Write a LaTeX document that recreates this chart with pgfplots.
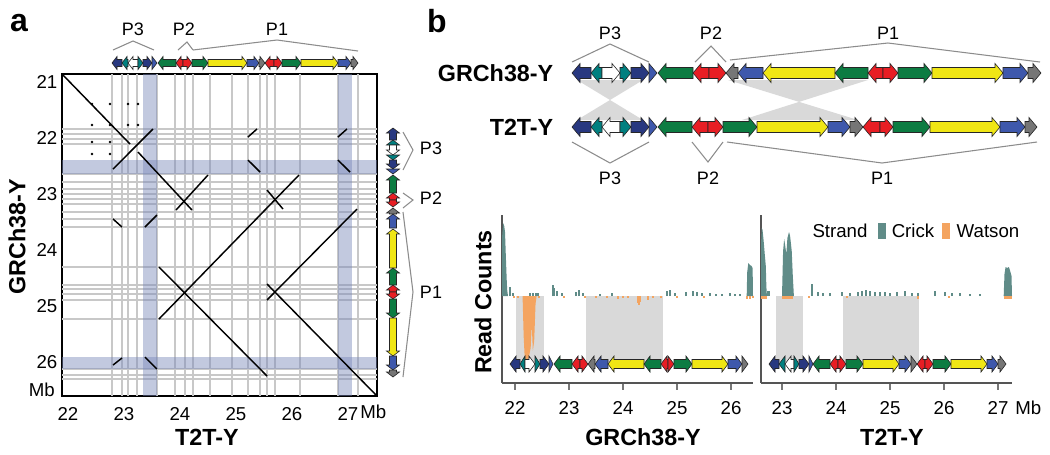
\documentclass[border=0pt]{standalone}
\usepackage{fontspec}
\setmainfont{Liberation Sans}
\usepackage{pgfplots}
\pgfplotsset{compat=1.18}

\definecolor{cnavy}{RGB}{40,56,128}
\definecolor{cblue}{RGB}{62,88,172}
\definecolor{cteal}{RGB}{0,128,128}
\definecolor{cgreen}{RGB}{12,124,66}
\definecolor{cred}{RGB}{232,30,36}
\definecolor{cyellow}{RGB}{240,230,20}
\definecolor{cgrey}{RGB}{118,118,118}
\definecolor{crick}{RGB}{96,140,136}
\definecolor{watson}{RGB}{244,164,96}
\definecolor{cshade}{RGB}{217,217,217}
\definecolor{gridc}{RGB}{200,200,200}
\definecolor{band}{RGB}{120,135,185}
\definecolor{brk}{RGB}{140,140,140}
\definecolor{axgray}{RGB}{85,85,85}

\newcommand{\tkl}{\fontsize{14}{14}\selectfont}
\newcommand{\lbl}{\fontsize{17.5}{18}\selectfont\bfseries}
\newcommand{\pl}{\fontsize{13.5}{14}\selectfont}

\tikzset{ol/.style={draw=black!85, line width=0.45pt, line join=miter}}

% gene arrows, pixel units of the overlay axis: x1 x2 centre body-half head-half head-length colour
\newcommand{\rarr}[7]{\draw[ol, fill=#7] (axis cs:#1,{#3-#4}) -- (axis cs:{#2-min(#6,#2-#1)},{#3-#4}) -- (axis cs:{#2-min(#6,#2-#1)},{#3-#5}) -- (axis cs:#2,#3) -- (axis cs:{#2-min(#6,#2-#1)},{#3+#5}) -- (axis cs:{#2-min(#6,#2-#1)},{#3+#4}) -- (axis cs:#1,{#3+#4}) -- cycle;}
\newcommand{\larr}[7]{\draw[ol, fill=#7] (axis cs:#2,{#3-#4}) -- (axis cs:{#1+min(#6,#2-#1)},{#3-#4}) -- (axis cs:{#1+min(#6,#2-#1)},{#3-#5}) -- (axis cs:#1,#3) -- (axis cs:{#1+min(#6,#2-#1)},{#3+#5}) -- (axis cs:{#1+min(#6,#2-#1)},{#3+#4}) -- (axis cs:#2,{#3+#4}) -- cycle;}
\newcommand{\darr}[7]{\draw[ol, fill=#7] (axis cs:{#3-#4},#1) -- (axis cs:{#3-#4},{#2-min(#6,#2-#1)}) -- (axis cs:{#3-#5},{#2-min(#6,#2-#1)}) -- (axis cs:#3,#2) -- (axis cs:{#3+#5},{#2-min(#6,#2-#1)}) -- (axis cs:{#3+#4},{#2-min(#6,#2-#1)}) -- (axis cs:{#3+#4},#1) -- cycle;}
\newcommand{\uarr}[7]{\draw[ol, fill=#7] (axis cs:{#3-#4},#2) -- (axis cs:{#3-#4},{#1+min(#6,#2-#1)}) -- (axis cs:{#3-#5},{#1+min(#6,#2-#1)}) -- (axis cs:#3,#1) -- (axis cs:{#3+#5},{#1+min(#6,#2-#1)}) -- (axis cs:{#3+#4},{#1+min(#6,#2-#1)}) -- (axis cs:{#3+#4},#2) -- cycle;}

\newcommand{\pAL}[3]{\larr{#1}{#2}{63}{3.5}{6.5}{5}{#3}}
\newcommand{\pAR}[3]{\rarr{#1}{#2}{63}{3.5}{6.5}{5}{#3}}
\newcommand{\pAU}[3]{\uarr{#1}{#2}{393}{3.5}{6.5}{5}{#3}}
\newcommand{\pAD}[3]{\darr{#1}{#2}{393}{3.5}{6.5}{5}{#3}}
\newcommand{\pGL}[3]{\larr{#1}{#2}{73}{5.5}{9.5}{8}{#3}}
\newcommand{\pGR}[3]{\rarr{#1}{#2}{73}{5.5}{9.5}{8}{#3}}
\newcommand{\pTL}[3]{\larr{#1}{#2}{127}{5.5}{9.5}{8}{#3}}
\newcommand{\pTR}[3]{\rarr{#1}{#2}{127}{5.5}{9.5}{8}{#3}}
\newcommand{\pDL}[3]{\larr{#1}{#2}{364}{4.5}{8}{6}{#3}}
\newcommand{\pDR}[3]{\rarr{#1}{#2}{364}{4.5}{8}{6}{#3}}

\pgfplotsset{
  dseg/.style={draw=black, line width=1.1pt, mark=none},
  readaxis/.style={
    anchor=south west, width=188.25pt, height=126pt, scale only axis,
    ymin=-87, ymax=81,
    axis x line=bottom, axis y line=left,
    axis line style={-, draw=axgray, line width=1pt},
    every outer x axis line/.append style={-},
    every outer y axis line/.append style={-},
    ytick=\empty, tick align=outside, major tick length=5pt,
    tick style={draw=axgray!80, line width=1pt},
    xticklabel style={font=\tkl, yshift=-5pt},
    /pgf/number format/assume math mode=true,
    clip=false,
  },
}

\begin{document}
\begin{tikzpicture}
\path[use as bounding box] (0,0) rectangle (787.5pt,-340.5pt);

% ---------------- panel a: dot plot ----------------
\begin{axis}[
  at={(46.5pt,-297pt)}, anchor=south west,
  width=236.25pt, height=241.5pt, scale only axis,
  xmin=21.893, xmax=27.518, ymin=20.857, ymax=26.607, y dir=reverse,
  xtick={22,...,27}, ytick={21,...,26},
  major tick length=0pt,
  tick label style={font=\tkl},
  xticklabel style={yshift=-5pt},
  /pgf/number format/assume math mode=true,
  axis line style={line width=1pt},
  extra x ticks={22.786,22.964,23.071,23.232,23.589,23.911,24.089,24.232,24.536,24.929,25.214,25.429,25.554,25.696,26.143,26.821,27.179},
  extra x tick labels={},
  extra y ticks={21.839,21.929,22.018,22.107,22.643,22.786,22.911,23.0,23.089,23.179,23.321,23.446,23.589,24.304,24.625,24.696,24.786,24.893,25.232,26.125,26.232,26.304},
  extra y tick labels={},
  extra tick style={grid=major, major grid style={draw=gridc, line width=1pt}, major tick length=0pt},
]
\addplot[fill=band, fill opacity=0.45, draw=none] coordinates {(23.339,20.857)(23.589,20.857)(23.589,26.607)(23.339,26.607)} -- cycle;
\addplot[fill=band, fill opacity=0.45, draw=none] coordinates {(26.821,20.857)(27.071,20.857)(27.071,26.607)(26.821,26.607)} -- cycle;
\addplot[fill=band, fill opacity=0.45, draw=none] coordinates {(21.893,22.393)(27.518,22.393)(27.518,22.643)(21.893,22.643)} -- cycle;
\addplot[fill=band, fill opacity=0.45, draw=none] coordinates {(21.893,25.911)(27.518,25.911)(27.518,26.125)(21.893,26.125)} -- cycle;

\addplot[dseg] coordinates {(21.893,20.857)(23.107,22.107)};
\addplot[dseg] coordinates {(23.25,22.25)(24.214,23.286)};
\addplot[dseg] coordinates {(22.804,22.554)(23.518,21.839)};
\addplot[dseg] coordinates {(23.929,23.286)(24.5,22.661)};
\addplot[dseg] coordinates {(25.214,21.982)(25.375,21.839)};
\addplot[dseg] coordinates {(25.214,22.393)(25.429,22.607)};
\addplot[dseg] coordinates {(26.821,21.982)(26.982,21.839)};
\addplot[dseg] coordinates {(26.821,22.393)(27.036,22.607)};
\addplot[dseg] coordinates {(25.554,22.929)(25.839,23.268)};
\addplot[dseg] coordinates {(23.625,25.232)(26.125,22.661)};
\addplot[dseg] coordinates {(25.554,24.893)(27.161,23.268)};
\addplot[dseg] coordinates {(23.625,24.304)(25.554,26.25)};
\addplot[dseg] coordinates {(25.554,24.607)(27.518,26.607)};
\addplot[dseg] coordinates {(22.804,23.446)(22.964,23.589)};
\addplot[dseg] coordinates {(23.375,23.589)(23.589,23.375)};
\addplot[dseg] coordinates {(23.375,25.911)(23.589,26.125)};
\addplot[dseg] coordinates {(22.804,26.054)(22.964,25.929)};
\addplot[only marks, mark=*, mark size=0.7pt, black] coordinates {
  (22.429,21.393)(22.75,21.393)(23.071,21.393)(23.25,21.393)
  (22.429,21.768)(22.75,21.768)(23.071,21.768)(23.25,21.768)
  (22.429,22.071)(22.75,22.071)(22.429,22.286)(22.75,22.286)};
\end{axis}

% ---------------- panel b: read counts, GRCh38-Y ----------------
\begin{axis}[readaxis, at={(376.5pt,-287.25pt)}, xmin=21.759, xmax=26.407, xtick={22,...,26}]
\addplot[fill=cshade, draw=none] coordinates {(22.019,0)(22.537,0)(22.537,-66)(22.019,-66)} -- cycle;
\addplot[fill=cshade, draw=none] coordinates {(23.315,0)(24.741,0)(24.741,-66)(23.315,-66)} -- cycle;
\addplot[fill=crick, draw=none] coordinates {(21.759,0)(21.762,60)(21.78,73)(21.80,70)(21.815,64)(21.83,40)(21.845,18)(21.855,6)(21.87,0)} -- cycle;
\addplot[fill=crick, draw=none] coordinates {(26.29,0)(26.30,24)(26.32,33)(26.35,31)(26.38,30)(26.40,28)(26.407,0)} -- cycle;
\addplot[ycomb, draw=crick, line width=1.5pt, mark=none] coordinates {
  (21.905,9)(21.915,8)(21.96,3)(22.28,3)(22.33,3)(22.38,3)(22.43,3)(22.704,11)(22.72,8)(22.778,5)
  (22.87,3)(23.13,4)(23.185,6)(23.259,3)(23.574,2)(23.796,3)(24.815,5)(24.87,6)(24.963,3)(25.167,4)
  (25.296,5)(25.37,4)(25.463,3)(25.611,3)(25.722,2)(25.833,2)(25.981,3)(26.074,2)(26.167,2)};
\addplot[fill=watson, draw=none] coordinates {(22.14,0)(22.16,-40)(22.18,-62)(22.20,-67)(22.23,-66)(22.26,-60)(22.29,-52)(22.31,-28)(22.33,-55)(22.355,-45)(22.38,-8)(22.40,0)} -- cycle;
\addplot[ycomb, draw=watson, line width=1.5pt, mark=none] coordinates {
  (21.98,-2)(22.05,-2)(22.45,-2)(22.9,-2)(23.3,-2)(23.5,-2)(23.7,-2)(23.9,-3)(24.0,-2)(24.1,-2)
  (24.278,-7)(24.30,-9)(24.315,-6)(24.46,-4)(24.55,-2)(24.7,-2)(25.0,-2)(25.5,-2)(26.3,-3)(26.36,-3)(26.40,-2)};
\end{axis}

% ---------------- panel b: read counts, T2T-Y ----------------
\begin{axis}[readaxis, at={(570.75pt,-287.25pt)}, xmin=22.611, xmax=27.259, xtick={23,...,27}]
\addplot[fill=cshade, draw=none] coordinates {(22.889,0)(23.389,0)(23.389,-66)(22.889,-66)} -- cycle;
\addplot[fill=cshade, draw=none] coordinates {(24.130,0)(25.537,0)(25.537,-66)(24.130,-66)} -- cycle;
\addplot[fill=crick, draw=none] coordinates {(22.611,0)(22.614,55)(22.625,68)(22.64,66)(22.66,55)(22.68,42)(22.70,30)(22.71,10)(22.72,0)} -- cycle;
\addplot[fill=crick, draw=none] coordinates {(23.00,0)(23.02,45)(23.04,57)(23.06,50)(23.08,42)(23.10,58)(23.13,64)(23.15,60)(23.18,45)(23.20,20)(23.22,0)} -- cycle;
\addplot[fill=crick, draw=none] coordinates {(27.105,0)(27.12,22)(27.14,29)(27.17,28)(27.20,29)(27.22,26)(27.25,20)(27.259,0)} -- cycle;
\addplot[ycomb, draw=crick, line width=1.5pt, mark=none] coordinates {
  (22.745,5)(22.76,5)(23.556,12)(23.667,4)(23.76,3)(23.89,3)(24.11,4)(24.26,3)(24.41,4)(24.48,5)
  (24.56,6)(24.63,5)(24.72,4)(24.81,4)(24.91,4)(25.0,3)(25.13,4)(25.28,5)(25.41,3)(25.52,3)
  (25.83,5)(26.02,4)(26.15,3)(26.30,3)(26.48,2)(26.67,2)};
\addplot[fill=watson, draw=none] coordinates {(22.611,0)(22.611,-3)(22.72,-3)(22.72,0)} -- cycle;
\addplot[fill=watson, draw=none] coordinates {(23.0,0)(23.0,-3)(23.2,-3)(23.2,0)} -- cycle;
\addplot[fill=watson, draw=none] coordinates {(27.11,0)(27.11,-3)(27.259,-3)(27.259,0)} -- cycle;
\addplot[ycomb, draw=watson, line width=1.5pt, mark=none] coordinates {(23.5,-2)(24.2,-2)(25.52,-3)(26.1,-2)};
\end{axis}

% ---------------- overlay in pixel units: genes, brackets, text ----------------
\begin{axis}[
  at={(0pt,0pt)}, anchor=north west,
  width=787.5pt, height=340.5pt, scale only axis, hide axis,
  xmin=0, xmax=1050, ymin=0, ymax=454, y dir=reverse, clip=false,
]
% shaded inversions between the two assemblies
\fill[cshade] (axis cs:577,80) -- (axis cs:643,80) -- (axis cs:577,120) -- (axis cs:643,120) -- cycle;
\fill[cshade] (axis cs:728,80) -- (axis cs:868,80) -- (axis cs:742,120) -- (axis cs:858,120) -- cycle;

% panel a top strip (T2T-Y)
\pAL{112}{122}{cnavy}\pAL{122}{128}{cteal}\pAL{128}{138}{white}\pAR{138}{143}{cteal}
\pAR{143}{152}{cnavy}\pAR{152}{157}{cblue}\pAL{158}{176}{cgreen}\pAL{176}{183}{cred}
\pAR{183}{192}{cred}\pAR{192}{208}{cgreen}\pAR{208}{247}{cyellow}\pAR{247}{259}{cblue}
\pAR{259}{265}{cgrey}\pAL{265}{274}{cred}\pAR{274}{282}{cred}\pAR{282}{301}{cgreen}
\pAR{301}{338}{cyellow}\pAR{338}{351}{cblue}\pAR{351}{358}{cgrey}
% panel a right strip (GRCh38-Y)
\pAU{128}{140}{cnavy}\pAU{140}{145}{cteal}\pAD{145}{155}{white}\pAD{155}{160}{cteal}
\pAD{160}{169}{cnavy}\pAD{169}{174}{cblue}\pAU{175}{193}{cgreen}\pAU{193}{200}{cred}
\pAD{200}{207}{cred}\pAU{208}{214}{cgrey}\pAU{214}{228}{cblue}\pAU{229}{268}{cyellow}
\pAU{268}{285}{cgreen}\pAU{285}{292}{cred}\pAD{292}{299}{cred}\pAD{299}{318}{cgreen}
\pAD{318}{356}{cyellow}\pAD{356}{370}{cblue}\pAD{370}{377}{cgrey}
% panel b, GRCh38-Y row
\pGL{572}{591}{cnavy}\pGL{591}{602}{cteal}\pGR{602}{620}{white}\pGR{620}{631}{cteal}
\pGR{631}{649}{cnavy}\pGR{649}{657}{cblue}\pGL{658}{693}{cgreen}\pGL{693}{709}{cred}
\pGR{709}{726}{cred}\pGL{726}{738}{cgrey}\pGL{738}{763}{cblue}\pGL{763}{835}{cyellow}
\pGL{835}{868}{cgreen}\pGL{868}{883}{cred}\pGR{883}{898}{cred}\pGR{898}{932}{cgreen}
\pGR{932}{1003}{cyellow}\pGR{1003}{1028}{cblue}\pGR{1028}{1041}{cgrey}
% panel b, T2T-Y row
\pTL{572}{591}{cnavy}\pTL{591}{602}{cteal}\pTL{602}{620}{white}\pTR{620}{631}{cteal}
\pTR{631}{649}{cnavy}\pTR{649}{657}{cblue}\pTL{658}{692}{cgreen}\pTL{692}{708}{cred}
\pTR{708}{723}{cred}\pTR{723}{757}{cgreen}\pTR{757}{828}{cyellow}\pTR{828}{850}{cblue}
\pTR{850}{863}{cgrey}\pTL{863}{880}{cred}\pTR{880}{893}{cred}\pTR{893}{930}{cgreen}
\pTR{930}{1000}{cyellow}\pTR{1000}{1025}{cblue}\pTR{1025}{1037}{cgrey}
% read count panels, gene tracks
\pDL{510}{520}{cnavy}\pDL{520}{525}{cteal}\pDR{525}{535}{white}\pDR{535}{540}{cteal}
\pDR{540}{549}{cnavy}\pDR{549}{553}{cblue}\pDL{554}{572}{cgreen}\pDL{572}{580}{cred}
\pDR{580}{588}{cred}\pDL{588}{595}{cgrey}\pDL{595}{608}{cblue}\pDL{608}{644}{cyellow}
\pDL{644}{661}{cgreen}\pDL{661}{668}{cred}\pDR{668}{674}{cred}\pDR{674}{692}{cgreen}
\pDR{692}{728}{cyellow}\pDR{728}{742}{cblue}\pDR{742}{748}{cgrey}
\pDL{769}{779}{cnavy}\pDL{779}{785}{cteal}\pDL{785}{794}{white}\pDR{794}{799}{cteal}
\pDR{799}{809}{cnavy}\pDR{809}{813}{cblue}\pDL{813}{830}{cgreen}\pDL{830}{838}{cred}
\pDR{838}{846}{cred}\pDR{846}{863}{cgreen}\pDR{863}{899}{cyellow}\pDR{899}{911}{cblue}
\pDR{911}{917}{cgrey}\pDL{917}{925}{cred}\pDR{925}{933}{cred}\pDR{933}{951}{cgreen}
\pDR{951}{987}{cyellow}\pDR{987}{998}{cblue}\pDR{998}{1006}{cgrey}

% brackets
\draw[brk, line width=0.8pt] (axis cs:113,50) -- (axis cs:133,41) -- (axis cs:154,50);
\draw[brk, line width=0.8pt] (axis cs:178,50) -- (axis cs:187,42) -- (axis cs:193,50);
\draw[brk, line width=0.8pt] (axis cs:193,50) -- (axis cs:277,40) -- (axis cs:358,51);
\draw[brk, line width=0.8pt] (axis cs:403,132) -- (axis cs:413,150) -- (axis cs:403,170);
\draw[brk, line width=0.8pt] (axis cs:403,193) -- (axis cs:413,200) -- (axis cs:403,208);
\draw[brk, line width=0.8pt] (axis cs:403,212) -- (axis cs:413,292) -- (axis cs:403,377);
\draw[brk, line width=0.8pt] (axis cs:572,62) -- (axis cs:610,44) -- (axis cs:649,62);
\draw[brk, line width=0.8pt] (axis cs:695,62) -- (axis cs:711,46) -- (axis cs:726,62);
\draw[brk, line width=0.8pt] (axis cs:730,60) -- (axis cs:888,43) -- (axis cs:1040,62);
\draw[brk, line width=0.8pt] (axis cs:572,142) -- (axis cs:610,163) -- (axis cs:649,142);
\draw[brk, line width=0.8pt] (axis cs:692,142) -- (axis cs:708,162) -- (axis cs:723,142);
\draw[brk, line width=0.8pt] (axis cs:727,142) -- (axis cs:882,163) -- (axis cs:1037,142);

% text
\node[font=\fontsize{24}{24}\selectfont\bfseries] at (axis cs:19,23) {a};
\node[font=\fontsize{24}{24}\selectfont\bfseries] at (axis cs:437,21) {b};
\node[font=\pl] at (axis cs:133,29) {P3};
\node[font=\pl] at (axis cs:184,29) {P2};
\node[font=\pl] at (axis cs:277,29) {P1};
\node[font=\pl] at (axis cs:431,148) {P3};
\node[font=\pl] at (axis cs:431,198) {P2};
\node[font=\pl] at (axis cs:431,292) {P1};
\node[font=\pl] at (axis cs:610,33) {P3};
\node[font=\pl] at (axis cs:711,33) {P2};
\node[font=\pl] at (axis cs:888,33) {P1};
\node[font=\pl] at (axis cs:610,178) {P3};
\node[font=\pl] at (axis cs:708,178) {P2};
\node[font=\pl] at (axis cs:882,178) {P1};
\node[font=\lbl, anchor=east] at (axis cs:558,73) {GRCh38-Y};
\node[font=\lbl, anchor=east] at (axis cs:558,127) {T2T-Y};
\node[font=\lbl, rotate=90] at (axis cs:17,237) {GRCh38-Y};
\node[font=\lbl] at (axis cs:207,437) {T2T-Y};
\node[font=\tkl, anchor=east, inner sep=0pt] at (axis cs:55,390) {Mb};
\node[font=\tkl, anchor=west, inner sep=0pt] at (axis cs:360,412) {Mb};
\node[font=\lbl, rotate=90] at (axis cs:483,302) {Read Counts};
\node[font=\lbl] at (axis cs:643,437) {GRCh38-Y};
\node[font=\lbl] at (axis cs:892,437) {T2T-Y};
\node[font=\tkl, anchor=west, inner sep=0pt] at (axis cs:1015,408) {Mb};
% legend
\node[font=\tkl] at (axis cs:840,231) {Strand};
\fill[crick] (axis cs:878,223) rectangle (axis cs:886,239);
\node[font=\tkl] at (axis cs:913,231) {Crick};
\fill[watson] (axis cs:942,223) rectangle (axis cs:950,239);
\node[font=\tkl] at (axis cs:988,231) {Watson};
\end{axis}
\end{tikzpicture}
\end{document}
